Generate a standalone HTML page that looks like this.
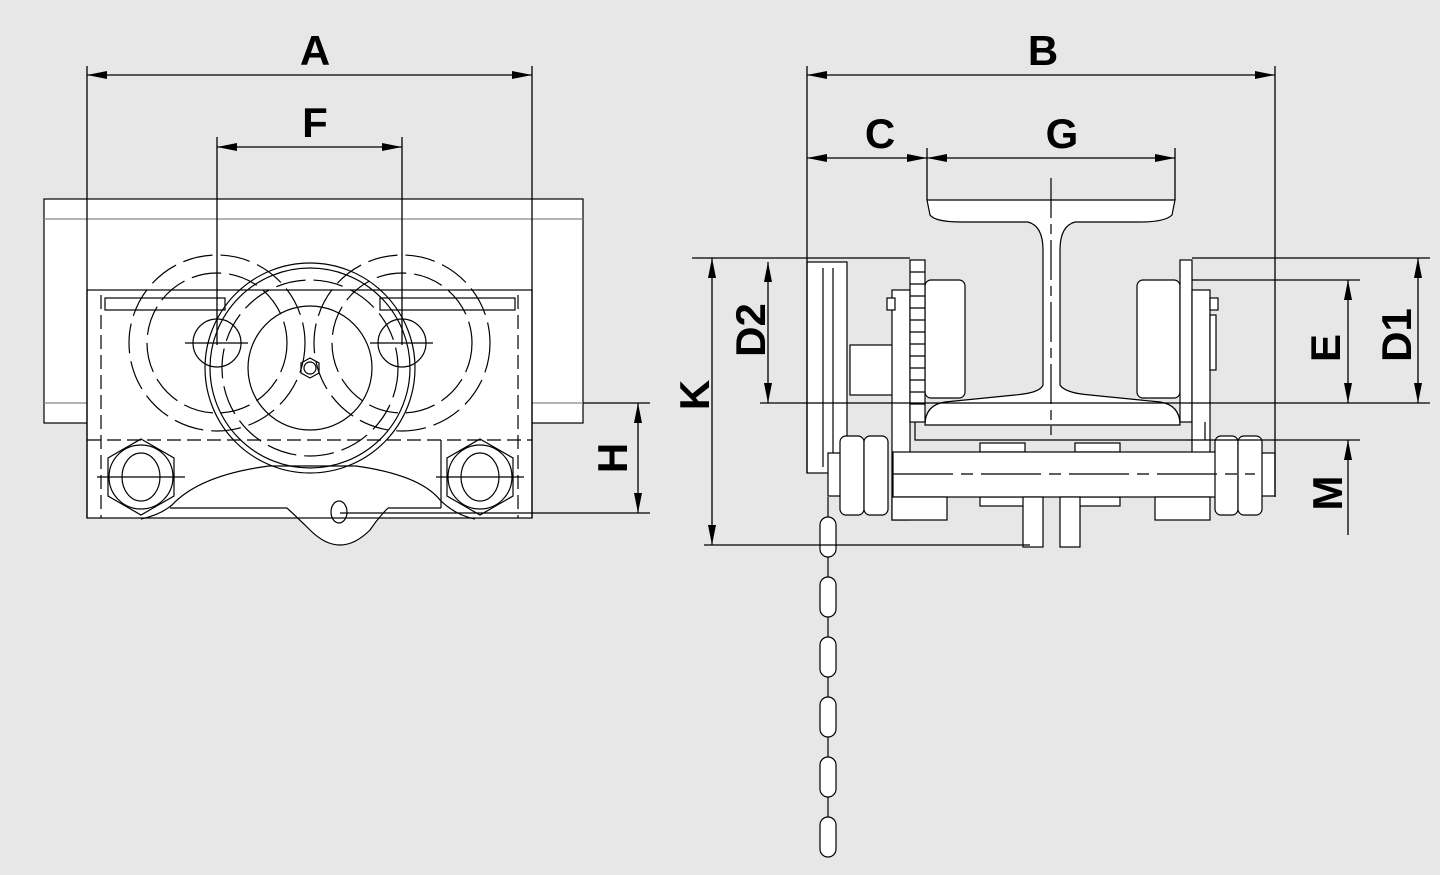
<!DOCTYPE html>
<html><head><style>html,body{margin:0;padding:0;background:#e6e7e6}svg{display:block}
text{font-family:"Liberation Sans",sans-serif;font-weight:bold;font-size:42px;fill:#000}</style></head>
<body>
<svg width="1440" height="875" viewBox="0 0 1440 875" xmlns="http://www.w3.org/2000/svg">
<defs>
<marker id="ar" viewBox="0 0 20 8" refX="20" refY="4" markerWidth="20" markerHeight="8" orient="auto-start-reverse" markerUnits="userSpaceOnUse"><path d="M0,0 L20,4 L0,8z" fill="#000"/></marker>
</defs>
<rect width="1440" height="875" fill="#e6e7e6"/>
<g stroke="#000" stroke-width="1.2" fill="#fff">
<!-- LEFT VIEW -->
<rect x="44" y="199" width="539" height="224"/>
<line x1="44" y1="219" x2="583" y2="219" stroke="#888"/>
<line x1="44" y1="403" x2="583" y2="403" stroke="#888"/>
<path d="M287,508 Q300,520 310,530 Q325,545 340,545 Q355,545 370,530 Q378,518 388,508 Z" stroke="none"/>
<rect x="87" y="290" width="445" height="228"/>
<path d="M287,508 Q300,520 310,530 Q325,545 340,545 Q355,545 370,530 Q378,518 388,508" fill="none"/>
<g fill="none">
<path d="M141,519 Q160,515 172,505 Q200,475 269,466 L356,466 Q420,475 440,500 Q455,515 475,519"/>
<line x1="170" y1="508" x2="287" y2="508"/><line x1="388" y1="508" x2="441" y2="508"/>
<line x1="441" y1="440" x2="441" y2="508"/>
<line x1="101" y1="295" x2="101" y2="518" stroke-dasharray="14,6"/>
<line x1="518" y1="295" x2="518" y2="518" stroke-dasharray="14,6"/>
<line x1="87" y1="440" x2="532" y2="440" stroke-dasharray="14,6"/>
<rect x="105" y="298" width="120" height="12"/>
<rect x="380" y="298" width="135" height="12"/>
<circle cx="217" cy="343" r="88" stroke-dasharray="30,8"/>
<circle cx="217" cy="343" r="70" stroke-dasharray="30,8"/>
<circle cx="217" cy="343" r="24"/>
<circle cx="402" cy="343" r="88" stroke-dasharray="30,8"/>
<circle cx="402" cy="343" r="70" stroke-dasharray="30,8"/>
<circle cx="402" cy="343" r="24"/>
<circle cx="310" cy="368" r="105" fill="none"/>
<circle cx="310" cy="368" r="100"/>
<circle cx="310" cy="368" r="88" stroke-dasharray="30,8"/>
<circle cx="310" cy="368" r="62"/>
<polygon points="310,358 319,363 319,373 310,378 301,373 301,363"/>
<circle cx="310" cy="368" r="6"/>
<line x1="185" y1="343" x2="248" y2="343"/><line x1="370" y1="343" x2="433" y2="343"/>
<polygon points="141,439 174,458 174,496 141,515 108,496 108,458"/>
<circle cx="141" cy="477" r="32"/><ellipse cx="141" cy="477" rx="19" ry="24"/>
<polygon points="480,439 513,458 513,496 480,515 447,496 447,458"/>
<circle cx="480" cy="477" r="32"/><ellipse cx="480" cy="477" rx="19" ry="24"/>
<line x1="97" y1="477" x2="185" y2="477"/><line x1="436" y1="477" x2="524" y2="477"/>
<ellipse cx="339" cy="512" rx="8" ry="11"/>
</g>
<!-- RIGHT VIEW -->
<path d="M927,200 L1175,200 L1172,215 Q1165,222 1140,222 L1075,222 Q1060,226 1060,250 L1060,385 Q1065,393 1090,395 L1160,402 Q1180,405 1180,425 L925,425 Q925,405 945,402 L1015,395 Q1040,393 1043,385 L1043,250 Q1043,226 1028,222 L962,222 Q935,222 930,215 Z"/>
<rect x="807" y="262" width="40" height="211"/>
<line x1="823" y1="268" x2="823" y2="467"/><line x1="833" y1="268" x2="833" y2="467"/>
<rect x="850" y="345" width="43" height="50"/>
<rect x="892" y="290" width="18" height="230"/>
<rect x="887" y="298" width="8" height="12"/>
<rect x="925" y="280" width="40" height="118" rx="6"/>
<rect x="910" y="260" width="15" height="162"/>
<g fill="none"><path d="M910,272 H925 M910,284 H925 M910,296 H925 M910,308 H925 M910,320 H925 M910,332 H925 M910,344 H925 M910,356 H925 M910,368 H925 M910,380 H925 M910,392 H925 M910,404 H925"/></g>
<rect x="1137" y="280" width="43" height="118" rx="6"/>
<rect x="1180" y="260" width="12" height="162"/>
<rect x="1192" y="290" width="18" height="163"/>
<rect x="1210" y="298" width="8" height="12"/>
<rect x="1210" y="315" width="6" height="55"/>
<path d="M915,422 L915,440 L1205,440 L1205,422" fill="none"/>
<rect x="980" y="443" width="45" height="9"/><rect x="1075" y="443" width="45" height="9"/>
<rect x="980" y="497" width="45" height="9"/><rect x="1075" y="497" width="45" height="9"/>
<rect x="893" y="452" width="362" height="45"/>
<rect x="828" y="453" width="15" height="43"/>
<rect x="1255" y="453" width="20" height="43"/>
<rect x="840" y="436" width="24" height="79" rx="6"/><rect x="864" y="436" width="24" height="79" rx="6"/>
<rect x="1215" y="436" width="23" height="79" rx="6"/><rect x="1238" y="436" width="24" height="79" rx="6"/>
<rect x="892" y="497" width="55" height="23"/><rect x="1155" y="497" width="55" height="23"/>
<rect x="1023" y="497" width="20" height="50"/><rect x="1060" y="497" width="20" height="50"/>
<g fill="none">
<line x1="893" y1="474" x2="1255" y2="474" stroke-dasharray="60,8,12,8"/>
<line x1="1051" y1="178" x2="1051" y2="435" stroke-dasharray="40,6,10,6"/>
</g>
<g>
<rect x="820" y="517" width="16" height="40" rx="8"/>
<rect x="820" y="577" width="16" height="40" rx="8"/>
<rect x="820" y="637" width="16" height="40" rx="8"/>
<rect x="820" y="697" width="16" height="40" rx="8"/>
<rect x="820" y="757" width="16" height="40" rx="8"/>
<rect x="820" y="817" width="16" height="40" rx="8"/>
<line x1="828" y1="497" x2="828" y2="517"/><line x1="828" y1="557" x2="828" y2="577"/><line x1="828" y1="617" x2="828" y2="637"/><line x1="828" y1="677" x2="828" y2="697"/><line x1="828" y1="737" x2="828" y2="757"/><line x1="828" y1="797" x2="828" y2="817"/>
</g>
</g>
<!-- DIMENSIONS -->
<g stroke="#000" stroke-width="1.3" fill="none">
<line x1="87" y1="66" x2="87" y2="518"/><line x1="532" y1="66" x2="532" y2="518"/>
<line x1="87" y1="75" x2="532" y2="75" marker-start="url(#ar)" marker-end="url(#ar)"/>
<line x1="217" y1="137" x2="217" y2="345"/><line x1="402" y1="137" x2="402" y2="345"/>
<line x1="217" y1="147" x2="402" y2="147" marker-start="url(#ar)" marker-end="url(#ar)"/>
<line x1="583" y1="403" x2="650" y2="403"/><line x1="340" y1="513" x2="650" y2="513"/>
<line x1="638" y1="403" x2="638" y2="513" marker-start="url(#ar)" marker-end="url(#ar)"/>
<line x1="807" y1="66" x2="807" y2="473"/><line x1="1275" y1="66" x2="1275" y2="497"/>
<line x1="807" y1="75" x2="1275" y2="75" marker-start="url(#ar)" marker-end="url(#ar)"/>
<line x1="927" y1="148" x2="927" y2="200"/><line x1="1175" y1="148" x2="1175" y2="200"/>
<line x1="807" y1="158" x2="927" y2="158" marker-start="url(#ar)" marker-end="url(#ar)"/>
<line x1="927" y1="158" x2="1175" y2="158" marker-start="url(#ar)" marker-end="url(#ar)"/>
<line x1="692" y1="258" x2="910" y2="258"/><line x1="760" y1="403" x2="1430" y2="403"/>
<line x1="768" y1="262" x2="768" y2="403" marker-start="url(#ar)" marker-end="url(#ar)"/>
<line x1="712" y1="258" x2="712" y2="545" marker-start="url(#ar)" marker-end="url(#ar)"/>
<line x1="704" y1="545" x2="1030" y2="545"/>
<line x1="1192" y1="258" x2="1430" y2="258"/>
<line x1="1418" y1="258" x2="1418" y2="403" marker-start="url(#ar)" marker-end="url(#ar)"/>
<line x1="1192" y1="280" x2="1360" y2="280"/>
<line x1="1348" y1="280" x2="1348" y2="403" marker-start="url(#ar)" marker-end="url(#ar)"/>
<line x1="1205" y1="440" x2="1360" y2="440"/>
<line x1="1348" y1="440" x2="1348" y2="535" marker-start="url(#ar)"/>
</g>
<text x="315" y="65" text-anchor="middle">A</text>
<text x="315" y="137" text-anchor="middle">F</text>
<text x="1043" y="65" text-anchor="middle">B</text>
<text x="880" y="148" text-anchor="middle">C</text>
<text x="1062" y="148" text-anchor="middle">G</text>
<text transform="translate(627,458) rotate(-90)" text-anchor="middle">H</text>
<text transform="translate(765,330) rotate(-90)" text-anchor="middle">D2</text>
<text transform="translate(709,395) rotate(-90)" text-anchor="middle">K</text>
<text transform="translate(1411,335) rotate(-90)" text-anchor="middle">D1</text>
<text transform="translate(1340,348) rotate(-90)" text-anchor="middle">E</text>
<text transform="translate(1342,493) rotate(-90)" text-anchor="middle">M</text>
</svg>
</body></html>
